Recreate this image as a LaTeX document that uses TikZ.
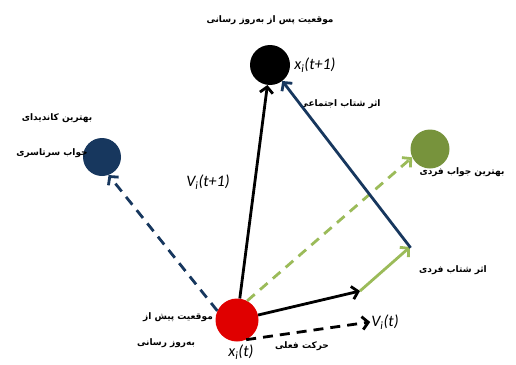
\documentclass[tikz,border=0pt]{standalone}
\usepackage{fontspec}
\setmainfont{Carlito}
\newfontfamily\farsi[Script=Arabic]{DejaVu Sans}
\TeXXeTstate=1
\usepackage{tikz}
\usetikzlibrary{arrows.meta, positioning}
\definecolor{navyc}{HTML}{17375E}
\definecolor{olivec}{HTML}{77933C}
\definecolor{lightg}{HTML}{9BBB59}
\definecolor{redc}{HTML}{E00000}
\tikzstyle{particle} = [circle, minimum size=40pt, inner sep=0pt]
\tikzstyle{fa} = [font=\farsi\bfseries\fontsize{9}{11}\selectfont, inner sep=1pt]
\tikzstyle{sym} = [font=\itshape\fontsize{16}{18}\selectfont, inner sep=1pt]
\tikzstyle{arrow} = [line width=2.8pt, -{Straight Barb[length=6pt,width=13pt]}]
\tikzstyle{dasharrow} = [arrow, dash pattern=on 10pt off 7pt]

\begin{document}
\begin{tikzpicture}[x=1pt, y=-1pt]
\useasboundingbox (0,0) rectangle (516,364);

% Particles
\node (old) [particle, fill=redc, minimum size=43pt] at (237,320) {};
\node (new) [particle, fill=black] at (270,65) {};
\node (gbest) [particle, fill=navyc, minimum size=38pt] at (102,157) {};
\node (pbest) [particle, fill=olivec, minimum size=39pt] at (430,149) {};

% Corners of the update
\coordinate (c1) at (360,291);
\coordinate (c2) at (410,247);

% Labels
\node (newtxt) [fa] at (270,20) {\beginR موقعیت پس از به‌روز رسانی\endR};
\node (xnew) [sym, right=3pt of new] {x\textsubscript{i}(t+1)};
\node (gtxt1) [fa] at (57,118) {\beginR بهترین کاندیدای\endR};
\node (gtxt2) [fa] at (52,153) {\beginR جواب سرتاسری\endR};
\node (ptxt) [fa] at (462,172) {\beginR بهترین جواب فردی\endR};
\node (soctxt) [fa] at (340,104) {\beginR اثر شتاب اجتماعی\endR};
\node (cogtxt) [fa] at (453,270) {\beginR اثر شتاب فردی\endR};
\node (vnext) [sym] at (208,182) {V\textsubscript{i}(t+1)};
\node (vt) [sym] at (385,322) {V\textsubscript{i}(t)};
\node (oldtxt1) [fa] at (178,317) {\beginR موقعیت پیش از\endR};
\node (oldtxt2) [fa] at (166,343) {\beginR به‌روز رسانی\endR};
\node (movetxt) [fa] at (302,346) {\beginR حرکت فعلی\endR};
\node (xold) [sym] at (241,352) {x\textsubscript{i}(t)};

% Arrows
\draw [dasharrow, navyc] (old.155) -- (gbest.-70);
\draw [dasharrow, lightg] (old.62) -- (pbest.205);
\draw [dasharrow, black] (old.-65) -- (vt.west);
\draw [arrow, black] (old) -- (new);
\draw [arrow, black] (old) -- (c1);
\draw [arrow, lightg] (c1) -- (c2);
\draw [arrow, navyc, shorten <=-1pt] (c2) -- (new);

\end{tikzpicture}
\end{document}
